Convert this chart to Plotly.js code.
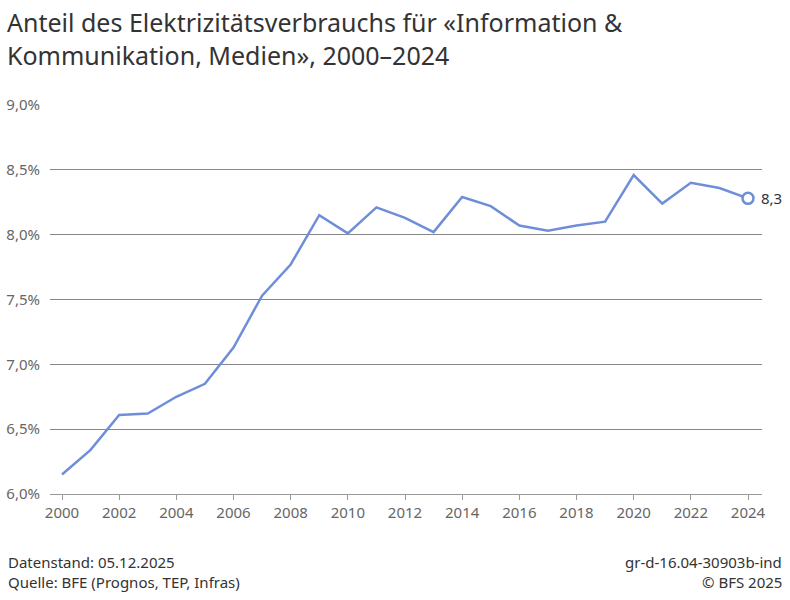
<!DOCTYPE html>
<html>
<head>
<meta charset="utf-8">
<script src="https://cdn.plot.ly/plotly-3.0.1.min.js"></script>
<style>html,body{margin:0;padding:0;background:#fff;}#chart{width:790px;height:600px;}</style>
</head>
<body>
<div id="chart"></div>
<script>
const years = [2000,2001,2002,2003,2004,2005,2006,2007,2008,2009,2010,2011,2012,2013,2014,2015,2016,2017,2018,2019,2020,2021,2022,2023,2024];
const share = [6.15,6.34,6.61,6.62,6.75,6.85,7.13,7.53,7.77,8.15,8.01,8.21,8.13,8.02,8.29,8.22,8.07,8.03,8.07,8.10,8.46,8.24,8.40,8.36,8.28];
const xTicks = [2000,2002,2004,2006,2008,2010,2012,2014,2016,2018,2020,2022,2024];
const yTicks = [6.0,6.5,7.0,7.5,8.0,8.5,9.0];
const lastLabel = "8,3";

const F = "Noto Sans, sans-serif";
const lineColor = "#6f8ed9";
const L = 50, T = 105, W = 712, H = 389;
const px = x => (x - L) / W;
const py = y => (T + H - y) / H;

const lastX = years[years.length-1], lastY = share[share.length-1];

const data = [
  {x: years, y: share, type: 'scatter', mode: 'lines',
   line: {color: lineColor, width: 2.5}, hoverinfo: 'none', cliponaxis: false},
  {x: [lastX], y: [lastY], type: 'scatter', mode: 'markers', cliponaxis: false,
   marker: {size: 11, color: '#fff', line: {color: lineColor, width: 2.5}}, hoverinfo: 'none'}
];

const foot = {family: F, size: 15, color: '#333'};
const layout = {
  width: 790, height: 600,
  margin: {l: L, r: 790 - L - W, t: T, b: 600 - T - H},
  paper_bgcolor: '#fff', plot_bgcolor: '#fff',
  showlegend: false,
  separators: ',.',
  font: {family: F, color: '#666', size: 15},
  xaxis: {range: [2000 - 12/28.58, 2024 + 14/28.58], tickvals: xTicks, ticktext: xTicks.map(String),
    showgrid: false, zeroline: false, showline: true, linecolor: '#999', linewidth: 1,
    ticks: 'outside', ticklen: 5, tickcolor: '#999', tickfont: {family: F, size: 15, color: '#666'}},
  yaxis: {range: [6.0, 9.0], tickvals: yTicks, ticktext: yTicks.map(v => v.toFixed(1).replace('.', ',') + '%'),
    showgrid: true, gridcolor: '#888', gridwidth: 1, zeroline: false, showline: false,
    ticks: '', ticklabelstandoff: 9, tickfont: {family: F, size: 15, color: '#666'}},
  annotations: [
    {text: 'Anteil des Elektrizitätsverbrauchs für «Information &<br>Kommunikation, Medien», 2000–2024',
     xref: 'paper', yref: 'paper', x: px(5), y: py(3), xanchor: 'left', yanchor: 'top', align: 'left',
     showarrow: false, font: {family: F, size: 25, color: '#333'}},
    {text: lastLabel, xref: 'x', yref: 'y', x: lastX, y: lastY, xanchor: 'left', yanchor: 'middle',
     xshift: 11, showarrow: false, font: {family: F, size: 15, color: '#333'}},
    {text: 'Datenstand: 05.12.2025', xref: 'paper', yref: 'paper', x: px(6), y: py(562), xanchor: 'left', yanchor: 'middle', showarrow: false, font: foot},
    {text: 'Quelle: BFE (Prognos, TEP, Infras)', xref: 'paper', yref: 'paper', x: px(6), y: py(582), xanchor: 'left', yanchor: 'middle', showarrow: false, font: foot},
    {text: 'gr-d-16.04-30903b-ind', xref: 'paper', yref: 'paper', x: px(784), y: py(562), xanchor: 'right', yanchor: 'middle', showarrow: false, font: foot},
    {text: '© BFS 2025', xref: 'paper', yref: 'paper', x: px(784), y: py(582), xanchor: 'right', yanchor: 'middle', showarrow: false, font: foot}
  ]
};

Plotly.newPlot('chart', data, layout, {displayModeBar: false, staticPlot: true});
</script>
</body>
</html>
